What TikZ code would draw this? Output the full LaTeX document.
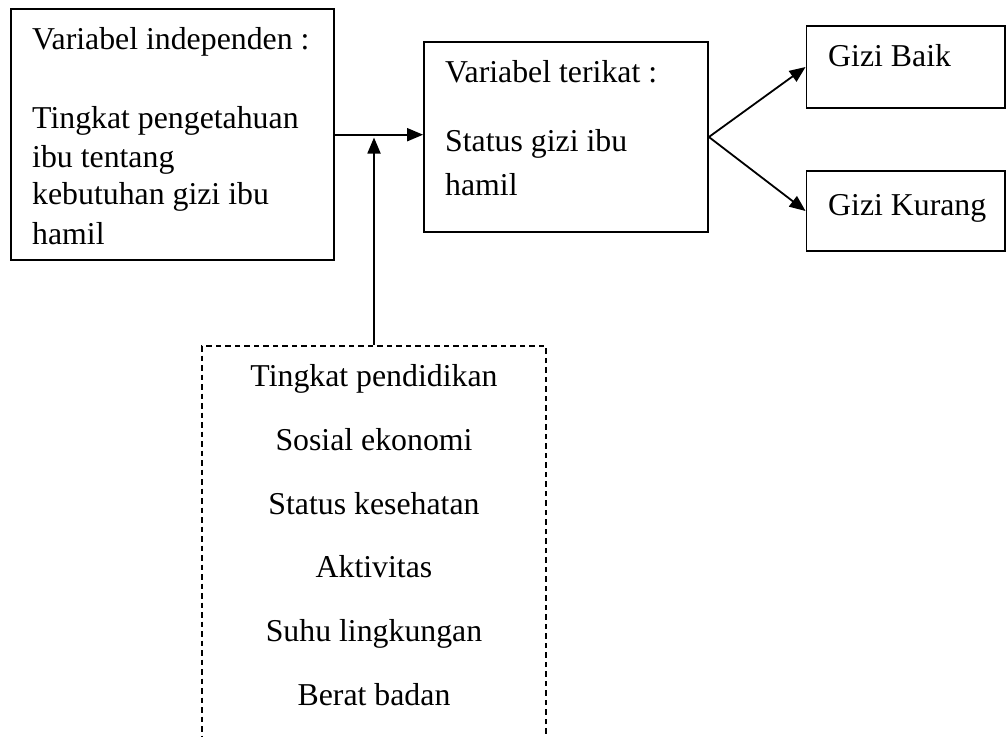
\documentclass[tikz,border=0pt]{standalone}
\usepackage{fontspec}
\setmainfont{Liberation Serif}
\usetikzlibrary{arrows.meta}
\begin{document}
\begin{tikzpicture}[x=1pt,y=-1pt,
  every node/.style={font=\fontsize{31.8}{38.5}\selectfont},
  box/.style={draw, line width=1.8pt, inner sep=0pt, rectangle},
  dbox/.style={draw, line width=1.8pt, inner sep=0pt, rectangle, dash pattern=on 5.5pt off 4pt},
  txt/.style={inner sep=0pt, anchor=base west},
  ctxt/.style={inner sep=0pt, anchor=base},
  arr/.style={line width=1.8pt, -{Triangle[length=16pt,width=13pt]}}]
\clip (0,0) rectangle (1006,736);
\useasboundingbox (0,0) rectangle (1006,736);
% boxes
\node[box, minimum width=323.3pt, minimum height=250.7pt] (b1) at (172.3,134.7) {};
\node[box, minimum width=284pt, minimum height=190pt] (b2) at (566,137) {};
\node[box, minimum width=198.5pt, minimum height=82pt] (gb) at (905.7,67) {};
\node[box, minimum width=198.5pt, minimum height=80pt] (gk) at (905.7,211) {};
\node[dbox, minimum width=344pt, minimum height=414pt] (db) at (374,553) {};
% texts box 1
\node[txt] (t11) at (32,49) {Variabel independen :};
\node[txt] (t12) at (32,128) {Tingkat pengetahuan};
\node[txt] (t13) at (32,167) {ibu tentang};
\node[txt] (t14) at (32,204.5) {kebutuhan gizi ibu};
\node[txt] (t15) at (32,244) {hamil};
% texts box 2
\node[txt] (t21) at (445,82) {Variabel terikat :};
\node[txt] (t22) at (445,151) {Status gizi ibu};
\node[txt] (t23) at (445,195) {hamil};
% outcomes
\node[txt] (t31) at (828,66) {Gizi Baik};
\node[txt] (t41) at (828,215) {Gizi Kurang};
% dashed box texts
\node[ctxt] (d1) at (374,386.7) {Tingkat pendidikan};
\node[ctxt] (d2) at (374,450.5) {Sosial ekonomi};
\node[ctxt] (d3) at (374,514) {Status kesehatan};
\node[ctxt] (d4) at (374,577.5) {Aktivitas};
\node[ctxt] (d5) at (374,641) {Suhu lingkungan};
\node[ctxt] (d6) at (374,705) {Berat badan};
% connectors
\coordinate (j) at (374,137.5);
\draw[arr] (b1.east) -- (b1.east -| b2.west);
\draw[arr] (db.north) -- (j);
\draw[arr] (b2.east) -- (gb.west);
\draw[arr] (b2.east) -- (gk.west);
\end{tikzpicture}
\end{document}
